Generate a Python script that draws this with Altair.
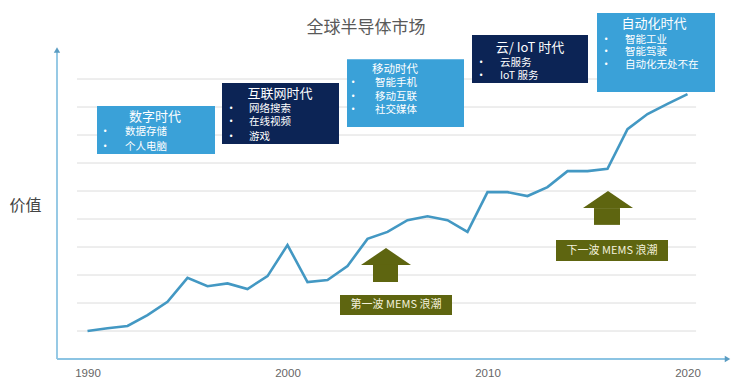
import altair as alt
import pandas as pd

# ---------------- data ----------------
years = list(range(1990, 2021))
values = [1.00, 1.10, 1.18, 1.57, 2.04, 2.90, 2.60, 2.70, 2.50, 2.96,
          4.07, 2.75, 2.82, 3.32, 4.29, 4.54, 4.96, 5.10, 4.96, 4.54,
          5.96, 5.96, 5.82, 6.14, 6.71, 6.71, 6.79, 8.21, 8.75, 9.11, 9.46]

x_ticks = [1990, 2000, 2010, 2020]
grid_values = [1, 2, 3, 4, 5, 6, 7, 8, 9, 10]

title_text = "全球半导体市场"
y_title = "价值"

# era boxes (in data units: year / value)
box_names = ["数字时代", "互联网时代", "移动时代", "云/ IoT 时代", "自动化时代"]
box_x0 = [1990.475, 1996.725, 2002.975, 2009.225, 2015.475]
box_x1 = [1996.375, 2002.575, 2008.825, 2015.025, 2021.375]
box_y0 = [7.32, 7.68, 8.29, 9.86, 9.54]
box_y1 = [9.04, 9.86, 10.71, 11.57, 12.36]
box_kind = ["light", "dark", "light", "dark", "light"]
box_title_x = [1993.375, 1999.625, 2005.375, 2012.125, 2018.325]
box_title_y = [8.64, 9.45, 10.32, 11.11, 11.95]
box_title_size = [13, 13, 11.5, 13, 13]

bullet_items = [
    ["数据存储", "个人电脑"],
    ["网络搜索", "在线视频", "游戏"],
    ["智能手机", "移动互联", "社交媒体"],
    ["云服务", "IoT 服务"],
    ["智能工业", "智能驾驶", "自动化无处不在"],
]
bullet_dot_x = [1990.875, 1997.175, 2003.275, 2009.675, 2015.925]
bullet_text_x = [1991.875, 1998.075, 2004.375, 2010.625, 2016.875]
bullet_y = [
    [8.11, 7.57],
    [8.94, 8.45, 7.93],
    [9.86, 9.36, 8.89],
    [10.57, 10.11],
    [11.41, 10.95, 10.50],
]

# MEMS arrows
wave_labels = ["第一波 MEMS 浪潮", "下一波 MEMS 浪潮"]
head_mid = [2004.925, 2016.025]
head_top = [3.96, 6.00]
head_base = [3.36, 5.39]
shaft_x0 = [2004.275, 2015.325]
shaft_x1 = [2005.525, 2016.625]
shaft_bottom = [2.75, 4.79]
label_x0 = [2002.625, 2013.425]
label_x1 = [2008.225, 2019.025]
label_y0 = [1.57, 3.50]
label_y1 = [2.29, 4.25]

# axis extents
x_min, x_max = 1988.475, 2022.225
y_min, y_max = 0.0, 12.536
x_axis_end = 2022.0
y_axis_end = 11.04
grid_x0, grid_x1 = 1989.475, 2020.43
title_pos = (2003.925, 11.82)

# ---------------- styling ----------------
FONT = "Noto Sans CJK SC"
LIGHT = "#3aa1d8"
DARK = "#0c2455"
OLIVE = "#5e6510"
LINE = "#4398c3"
AXIS = "#8cc4e3"

xs = alt.Scale(domain=[x_min, x_max], nice=False, zero=False)
ys = alt.Scale(domain=[y_min, y_max], nice=False, zero=False)

x_axis = alt.Axis(values=x_ticks, format="d", domain=False, ticks=False, grid=False,
                  labelFontSize=11.5, labelColor="#666666", labelPadding=8,
                  labelFont="Liberation Sans", title=None)
y_axis = alt.Axis(title=y_title, titleAngle=0, titleX=-32, titleY=197,
                  titleFontSize=16, titleColor="#444444", titleFont=FONT,
                  titleFontWeight="normal", titleAlign="center",
                  titleBaseline="middle", labels=False, ticks=False,
                  domain=False, grid=False)


def X(f, **kw):
    return alt.X(f, scale=xs, axis=x_axis, **kw)


def Y(f, **kw):
    return alt.Y(f, scale=ys, axis=y_axis, **kw)


# grid
grid_df = pd.DataFrame({"v": grid_values, "x0": grid_x0, "x1": grid_x1})
grid = alt.Chart(grid_df).mark_rule(color="#dcdcdc", strokeWidth=1).encode(
    x=X("x0:Q"), x2="x1:Q", y=Y("v:Q"))

# axis lines
axes_df = pd.DataFrame({"x0": [x_min, x_min], "x1": [x_min, x_axis_end],
                        "y0": [0, 0], "y1": [y_axis_end, 0]})
axes_lines = alt.Chart(axes_df).mark_rule(color=AXIS, strokeWidth=1.8).encode(
    x=X("x0:Q"), x2="x1:Q", y=Y("y0:Q"), y2="y1:Q")
tips_df = pd.DataFrame({"x": [x_min, x_axis_end], "y": [y_axis_end, 0],
                        "shape": ["triangle-up", "triangle-right"]})
tips = alt.Chart(tips_df).mark_point(filled=True, opacity=1, size=40, color="#5a9cc2").encode(
    x=X("x:Q"), y=Y("y:Q"), shape=alt.Shape("shape:N", scale=None))

# main line
line_df = pd.DataFrame({"year": years, "value": values})
line = alt.Chart(line_df).mark_line(color=LINE, strokeWidth=2.6).encode(
    x=X("year:Q"), y=Y("value:Q"))

# era boxes
boxes_df = pd.DataFrame({"x0": box_x0, "x1": box_x1, "y0": box_y0, "y1": box_y1,
                         "kind": box_kind})
boxes = alt.Chart(boxes_df).mark_rect().encode(
    x=X("x0:Q"), x2="x1:Q", y=Y("y0:Q"), y2="y1:Q",
    color=alt.Color("kind:N", scale=alt.Scale(domain=["light", "dark"], range=[LIGHT, DARK]),
                    legend=None))

btitle_df = pd.DataFrame({"x": box_title_x, "y": box_title_y, "t": box_names,
                          "s": box_title_size})
btitles = alt.Chart(btitle_df).mark_text(color="white", font=FONT, align="center",
                                         baseline="middle").encode(
    x=X("x:Q"), y=Y("y:Q"), text="t:N", size=alt.Size("s:Q", scale=None, legend=None))

rows = []
for i, items in enumerate(bullet_items):
    for j, item in enumerate(items):
        rows.append({"dx": bullet_dot_x[i], "tx": bullet_text_x[i], "y": bullet_y[i][j],
                     "t": item, "dot": "•"})
bul_df = pd.DataFrame(rows)
bdots = alt.Chart(bul_df).mark_text(color="white", font="DejaVu Sans", fontSize=8,
                                    align="center", baseline="middle").encode(
    x=X("dx:Q"), y=Y("y:Q"), text="dot:N")
btexts = alt.Chart(bul_df).mark_text(color="white", font=FONT, fontSize=10.5,
                                     align="left", baseline="middle").encode(
    x=X("tx:Q"), y=Y("y:Q"), text="t:N")

# arrows: triangular heads as custom symbols, shafts as rects
head_df = pd.DataFrame({"x": head_mid,
                        "y": [(a + b) / 2 for a, b in zip(head_top, head_base)]})
heads = alt.Chart(head_df).mark_point(
    shape="M-1,0.34L0,-0.34L1,0.34Z", size=2500, filled=True, opacity=1,
    color=OLIVE, strokeWidth=0).encode(x=X("x:Q"), y=Y("y:Q"))
shaft_df = pd.DataFrame({"x0": shaft_x0, "x1": shaft_x1, "y0": shaft_bottom, "y1": head_base})
shafts = alt.Chart(shaft_df).mark_rect(color=OLIVE).encode(
    x=X("x0:Q"), x2="x1:Q", y=Y("y0:Q"), y2="y1:Q")

lab_df = pd.DataFrame({"x0": label_x0, "x1": label_x1, "y0": label_y0, "y1": label_y1,
                       "t": wave_labels})
lab_df["xm"] = (lab_df["x0"] + lab_df["x1"]) / 2
lab_df["ym"] = (lab_df["y0"] + lab_df["y1"]) / 2
lab_boxes = alt.Chart(lab_df).mark_rect(color=OLIVE).encode(
    x=X("x0:Q"), x2="x1:Q", y=Y("y0:Q"), y2="y1:Q")
lab_texts = alt.Chart(lab_df).mark_text(color="#f3f1dc", font=FONT, fontSize=11,
                                        align="center", baseline="middle").encode(
    x=X("xm:Q"), y=Y("ym:Q"), text="t:N")

# title
title_df = pd.DataFrame({"x": [title_pos[0]], "y": [title_pos[1]], "t": [title_text]})
title = alt.Chart(title_df).mark_text(color="#595959", font=FONT, fontSize=17,
                                      align="center", baseline="middle").encode(
    x=X("x:Q"), y=Y("y:Q"), text="t:N")

chart = alt.layer(
    grid, line, axes_lines, tips, boxes, btitles, bdots, btexts,
    heads, shafts, lab_boxes, lab_texts, title,
).properties(
    width=675, height=351,
    autosize=alt.AutoSizeParams(type="none"),
    padding={"left": 49, "top": 0, "right": 0, "bottom": 20},
    background="white",
).configure_view(stroke=None)

chart.save("out.html", embed_options={"renderer": "svg", "actions": False})
